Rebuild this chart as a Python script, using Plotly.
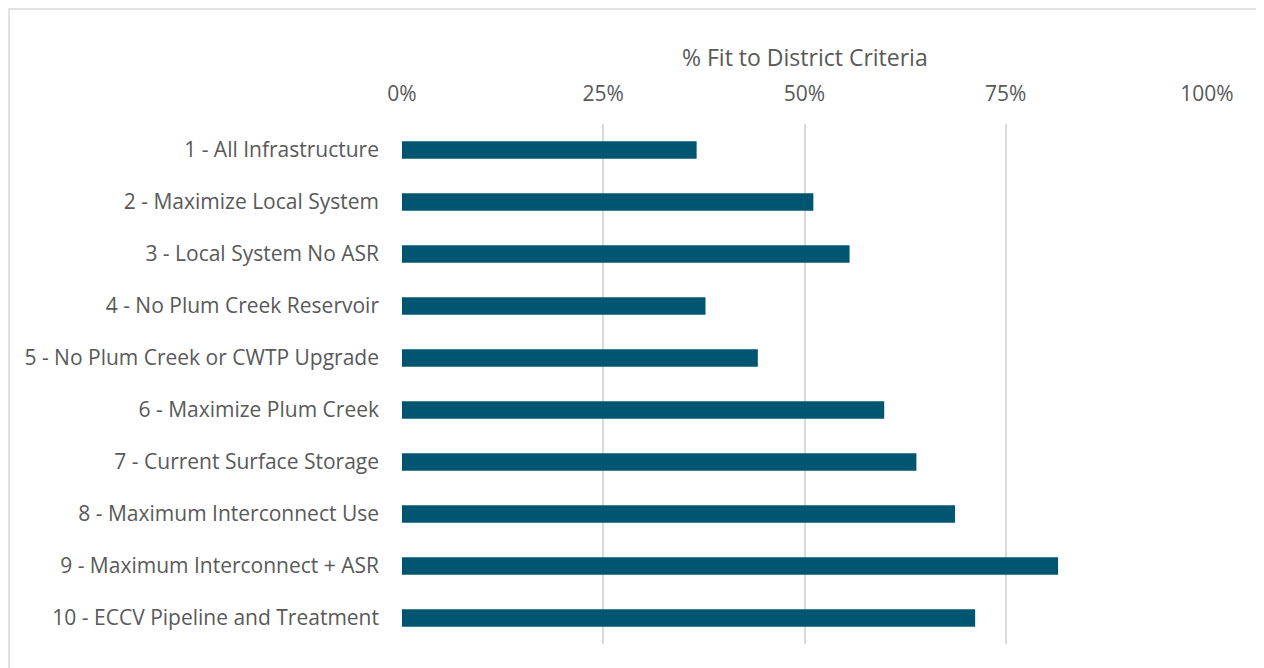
import plotly.graph_objects as go

categories = [
    "1 - All Infrastructure",
    "2 - Maximize Local System",
    "3 - Local System No ASR",
    "4 - No Plum Creek Reservoir",
    "5 - No Plum Creek or CWTP Upgrade",
    "6 - Maximize Plum Creek",
    "7 - Current Surface Storage",
    "8 - Maximum Interconnect Use",
    "9 - Maximum Interconnect + ASR",
    "10 - ECCV Pipeline and Treatment",
]
fit_values = [0.366, 0.511, 0.556, 0.377, 0.442, 0.599, 0.639, 0.687, 0.815, 0.712]
tick_vals = [0, 0.25, 0.5, 0.75, 1.0]
tick_text = ["0%", "25%", "50%", "75%", "100%"]

# page body has an 8px margin, so the figure is offset by 8px
OFF = 8
W, H = 1264 - OFF, 668 - OFF
L, T = 402 - OFF, 124 - OFF
R = W - (1207 - OFF)
B = H - (644 - OFF)
pw, ph = W - L - R, H - T - B

fig = go.Figure(go.Bar(
    x=fit_values, y=categories, orientation="h",
    marker=dict(color="#005670", line=dict(width=0)),
    hoverinfo="x+y",
))

fig.update_layout(
    width=W, height=H,
    margin=dict(l=L, r=R, t=T, b=B, pad=0),
    paper_bgcolor="white", plot_bgcolor="white",
    bargap=0.66,
    showlegend=False,
    font=dict(family="Open Sans, sans-serif", size=21, color="#595959"),
    xaxis=dict(
        side="top", range=[0, 1], tickvals=tick_vals, ticktext=tick_text,
        showgrid=True, gridcolor="#D9D9D9", gridwidth=2,
        zeroline=False, showline=False, ticks="", ticklabelstandoff=18,
        tickfont=dict(size=21, color="#595959"),
    ),
    yaxis=dict(
        autorange="reversed", showgrid=False, zeroline=False, showline=False,
        ticks="", ticklabelstandoff=22,
        tickfont=dict(size=21, color="#595959"),
    ),
    annotations=[dict(
        text="% Fit to District Criteria", xref="paper", yref="paper",
        x=0.5, y=1 + (T - (57 - OFF)) / ph, xanchor="center", yanchor="middle",
        showarrow=False, font=dict(size=23, color="#595959"),
    )],
    shapes=[dict(
        type="rect", xref="paper", yref="paper",
        x0=(1 - L) / pw, x1=(W - 1 - L) / pw,
        y0=-(B + 2) / ph, y1=1 + (T - 1) / ph,
        line=dict(color="#D9D9D9", width=1.5), fillcolor="rgba(0,0,0,0)",
        layer="below",
    )],
)

fig.write_html("out.html")
